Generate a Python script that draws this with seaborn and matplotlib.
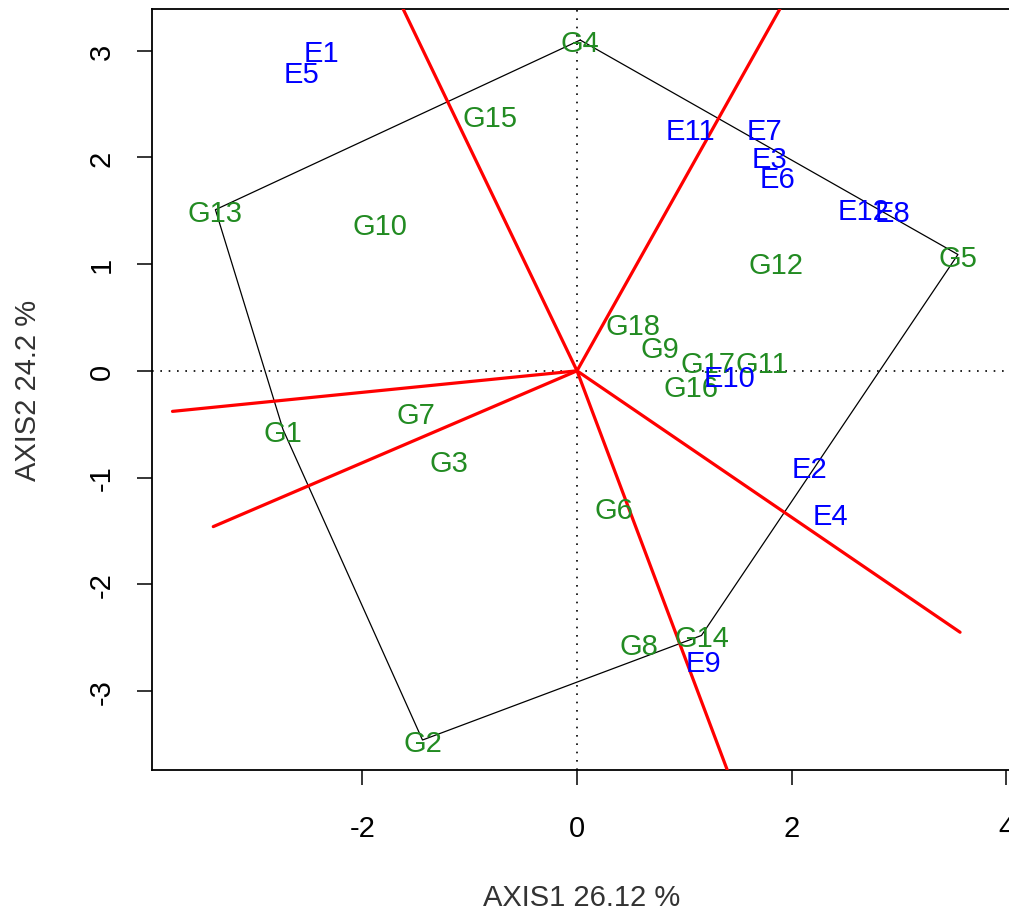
import numpy as np
import pandas as pd
import matplotlib
matplotlib.use("Agg")
import matplotlib.pyplot as plt
import seaborn as sns

# genotype scores
gen_names = ["G1", "G2", "G3", "G4", "G5", "G6", "G7", "G8", "G9", "G10",
             "G11", "G12", "G13", "G14", "G15", "G16", "G17", "G18"]
gen_x = [-2.74, -1.44, -1.19, 0.03, 3.55, 0.34, -1.50, 0.58, 0.77, -1.84,
         1.72, 1.85, -3.37, 1.16, -0.81, 1.06, 1.22, 0.52]
gen_y = [-0.55, -3.46, -0.84, 3.10, 1.09, -1.28, -0.39, -2.55, 0.23, 1.39,
         0.09, 1.02, 1.51, -2.48, 2.40, -0.13, 0.09, 0.45]

# environment scores
env_names = ["E1", "E2", "E3", "E4", "E5", "E6", "E7", "E8", "E9", "E10", "E11", "E12"]
env_x = [-2.38, 2.17, 1.79, 2.36, -2.57, 1.87, 1.75, 2.94, 1.18, 1.42, 1.06, 2.67]
env_y = [3.01, -0.89, 2.01, -1.33, 2.81, 1.83, 2.28, 1.51, -2.71, -0.04, 2.28, 1.53]

# polygon vertices (which-won-where hull)
hull = ["G4", "G5", "G14", "G2", "G1", "G13"]

# red rays from origin: end points
ray_x = [-1.62, 1.89, 3.57, 1.40, -3.77, -3.39]
ray_y = [3.39, 3.39, -2.45, -3.74, -0.38, -1.46]

sns.set_style("ticks")
plt.rcParams["font.family"] = ["Liberation Sans", "DejaVu Sans"]
plt.rcParams["axes.unicode_minus"] = False
plt.rcParams["text.color"] = "black"
plt.rcParams["axes.labelcolor"] = "black"

fig = plt.figure(figsize=(10.09, 9.12), dpi=100)
ax = fig.add_axes([152 / 1009, 141 / 912, 860 / 1009, 761 / 912])

gen = pd.DataFrame({"name": gen_names, "x": gen_x, "y": gen_y})
env = pd.DataFrame({"name": env_names, "x": env_x, "y": env_y})

# reference lines through origin
ax.axhline(0, color="black", ls=(0, (1, 4)), lw=1.2, zorder=1)
ax.axvline(0, color="black", ls=(0, (1, 4)), lw=1.2, zorder=1)

# polygon
poly = gen.set_index("name").loc[hull + [hull[0]]].reset_index()
sns.lineplot(data=poly, x="x", y="y", sort=False, estimator=None,
             color="black", lw=0.9, ax=ax, zorder=2)

# rays
rays = pd.DataFrame({
    "ray": np.repeat(range(len(ray_x)), 2),
    "x": np.ravel([[0, rx] for rx in ray_x]),
    "y": np.ravel([[0, ry] for ry in ray_y]),
})
sns.lineplot(data=rays, x="x", y="y", units="ray", sort=False, estimator=None,
             color="red", lw=2.3, ax=ax, zorder=3)

# labels
for _, r in gen.iterrows():
    ax.text(r.x, r.y, r["name"], color="#228B22", fontsize=21,
            ha="center", va="center_baseline", zorder=4)
for _, r in env.iterrows():
    ax.text(r.x, r.y, r["name"], color="blue", fontsize=21,
            ha="center", va="center_baseline", zorder=4)

ax.set_xlim(-3.961, 4.054)
ax.set_ylim(-3.741, 3.391)
ax.set_xticks([-2, 0, 2, 4])
ax.set_yticks([-3, -2, -1, 0, 1, 2, 3])
ax.tick_params(axis="both", length=11, width=1.1, labelsize=21, colors="black")
ax.tick_params(axis="x", pad=21)
ax.tick_params(axis="y", pad=15)
for lab in ax.get_yticklabels():
    lab.set_rotation(90)
    lab.set_va("center")

for s in ax.spines.values():
    s.set_linewidth(1.3)
    s.set_color("black")

ax.set_xlabel("AXIS1 26.12 %", fontsize=21, labelpad=29, color="#333333")
ax.set_ylabel("AXIS2 24.2 %", fontsize=21, labelpad=33, color="#333333")

fig.savefig("out.png", dpi=100)
